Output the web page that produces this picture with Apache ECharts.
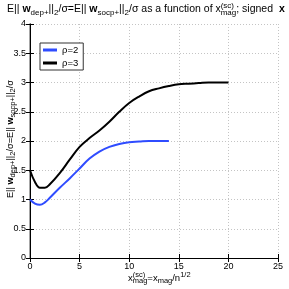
<!DOCTYPE html>
<html><head><meta charset="utf-8">
<script src="https://cdn.jsdelivr.net/npm/echarts@6/dist/echarts.min.js"></script>
<style>html,body{margin:0;padding:0;background:#fff}#c{width:289px;height:289px}</style>
</head><body><div id="c"></div>
<script>
const xTicks = [0, 5, 10, 15, 20, 25];
const yTicks = [0, 0.5, 1, 1.5, 2, 2.5, 3, 3.5, 4];
const seriesNames = ['ρ=2', 'ρ=3'];
const xRho2 = [0, 0.5, 1, 1.5, 2, 3, 4, 5, 6, 7, 8, 9, 10, 11, 12, 13, 14];
const yRho2 = [1.0, 0.93, 0.91, 0.95, 1.03, 1.2, 1.36, 1.53, 1.70, 1.82, 1.90, 1.95, 1.98, 1.99, 2.0, 2.0, 2.0];
const xRho3 = [0, 0.5, 1, 1.5, 2, 3, 4, 5, 6, 7, 8, 9, 10, 11, 12, 13, 14, 15, 16, 17, 18, 19, 20];
const yRho3 = [1.5, 1.3, 1.2, 1.2, 1.26, 1.45, 1.68, 1.9, 2.05, 2.18, 2.33, 2.5, 2.65, 2.76, 2.85, 2.9, 2.94, 2.97, 2.98, 2.99, 3.0, 3.0, 3.0];

const pair = (xs, ys) => xs.map((x, i) => [x, ys[i]]);
const F = 'Liberation Sans, Arial, sans-serif';
function mkRich(fs, ss, off) {
  return {
    b: {fontSize: fs, fontFamily: F, color: '#000', fontWeight: 'bold'},
    sub: {fontSize: ss, fontFamily: F, color: '#000', padding: [off, 0, 0, 0]},
    sup: {fontSize: ss, fontFamily: F, color: '#000', padding: [0, 0, off, 0]},
    sup0: {fontSize: ss, fontFamily: F, color: '#000', padding: [0, 0, off, 0], width: 0, align: 'left'}
  };
}
const richT = mkRich(10.5, 8, 7);
const richX = mkRich(9.5, 7.5, 6);
const chart = echarts.init(document.getElementById('c'));
const blackLine = {show: true, lineStyle: {color: '#000', width: 1}};
const tick = {show: true, inside: true, length: 4, lineStyle: {color: '#000'}};
chart.setOption({
  animation: false,
  backgroundColor: '#fff',
  grid: {left: 30, right: 11, top: 24, bottom: 31, show: false},
  legend: {
    left: 40, top: 43, orient: 'vertical', itemGap: 3,
    backgroundColor: '#fff', borderColor: '#333', borderWidth: 1, borderRadius: 0,
    padding: [2, 5, 2, 3], itemWidth: 14, itemHeight: 3, icon: 'rect',
    textStyle: {fontSize: 9.5, fontFamily: F, color: '#000'},
    data: seriesNames
  },
  graphic: [
    {type: 'text', left: 7, top: 2, style: {
      text: 'E|| {b|w}{sub|dep+}||{sub|2}/σ=E|| {b|w}{sub|socp+}||{sub|2}/σ as a function of x{sup0|(sc)}{sub|mag}; signed  {b|x}',
      rich: richT, fontSize: 10.5, fontFamily: F, fill: '#000'}},
    {type: 'text', x: 3, y: 80, rotation: Math.PI / 2, style: {
      text: 'E|| {b|w}{sub|dep+}||{sub|2}/σ=E|| {b|w}{sub|socp+}||{sub|2}/σ',
      rich: mkRich(9.2, 7.5, 6), fontSize: 9.2, fontFamily: F, fill: '#000', align: 'right', verticalAlign: 'top'}},
    {type: 'text', x: 128, y: 271, style: {
      text: 'x{sup0|(sc)}{sub|mag}=x{sub|mag}/n{sup|1/2}',
      rich: richX, fontSize: 9.5, fontFamily: F, fill: '#000', align: 'left', verticalAlign: 'top'}}
  ],
  xAxis: [
    {type: 'value', min: 0, max: 25, interval: 5, position: 'bottom',
      axisLine: blackLine, axisTick: tick,
      axisLabel: {fontSize: 9, fontFamily: F, color: '#000', margin: 4,
        formatter: v => xTicks.includes(v) ? String(v) : ''},
      splitLine: {show: true, lineStyle: {color: '#c4c4c4', type: [1, 2], width: 1}}},
    {type: 'value', min: 0, max: 25, interval: 5, position: 'top',
      axisLine: blackLine, axisTick: tick,
      axisLabel: {show: false}, splitLine: {show: false}}
  ],
  yAxis: [
    {type: 'value', min: 0, max: 4, interval: 0.5, position: 'left',
      axisLine: {show: true, lineStyle: {color: '#888', width: 1.5}},
      axisTick: tick,
      axisLabel: {fontSize: 9, fontFamily: F, color: '#000', margin: 4,
        formatter: v => yTicks.includes(v) ? String(v) : ''},
      splitLine: {show: true, lineStyle: {color: '#c4c4c4', type: [1, 2], width: 1}}},
    {type: 'value', min: 0, max: 4, interval: 0.5, position: 'right',
      axisLine: blackLine, axisTick: tick,
      axisLabel: {show: false}, splitLine: {show: false}}
  ],
  series: [
    {name: seriesNames[0], type: 'line', data: pair(xRho2, yRho2), smooth: 0.4, showSymbol: false,
      lineStyle: {color: '#2f4cff', width: 2}, itemStyle: {color: '#2f4cff'}},
    {name: seriesNames[1], type: 'line', data: pair(xRho3, yRho3), smooth: 0.4, showSymbol: false,
      lineStyle: {color: '#000', width: 2}, itemStyle: {color: '#000'}}
  ]
});
</script></body></html>
